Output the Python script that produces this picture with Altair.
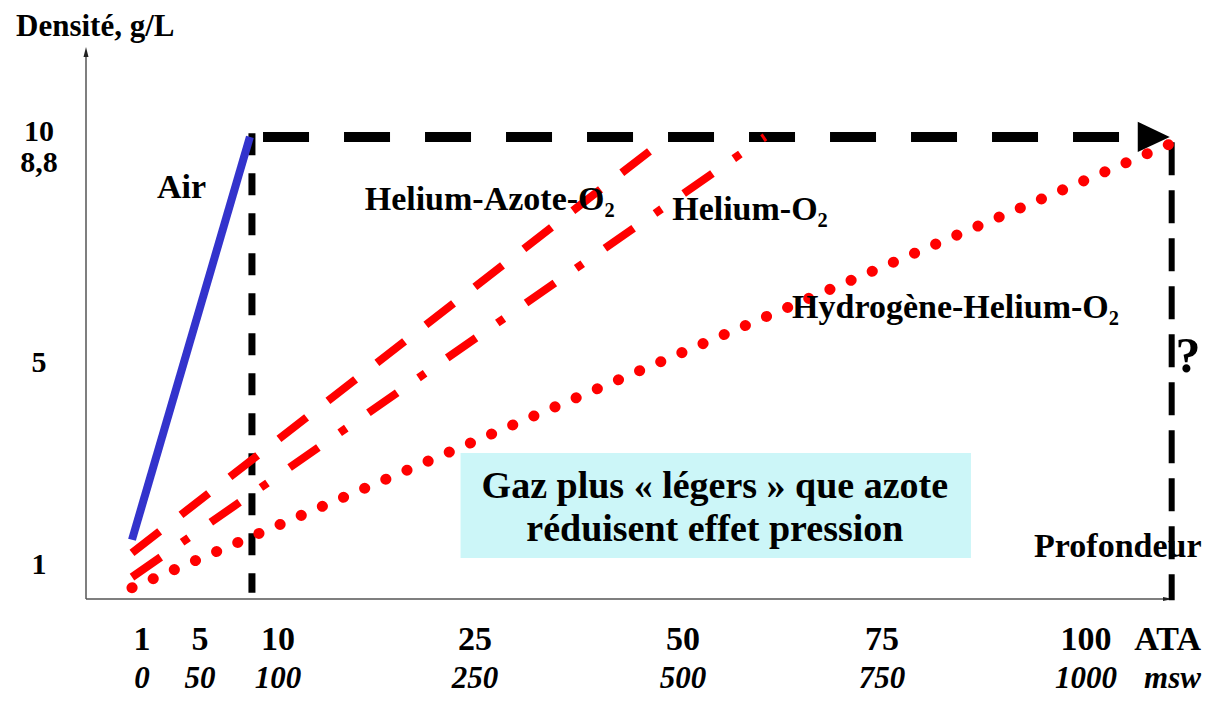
import altair as alt
import pandas as pd

# ---- axis ticks (schematic, non-linear axes of the slide) ----
ata_ticks = [1, 5, 10, 25, 50, 75, 100]
ata_labels = ["1", "5", "10", "25", "50", "75", "100"]
msw_labels = ["0", "50", "100", "250", "500", "750", "1000"]
dens_ticks = [1, 5, 8.8, 10]
dens_labels = ["1", "5", "8,8", "10"]

# ---- gas density lines (ATA, g/L) ----
gas = ["Air", "Helium-Azote-O2", "Helium-O2", "Hydrogène-Helium-O2"]
ata_start = [0.31, 0.31, 0.31, 0.31]
dens_start = [1.5, 1.24, 0.76, 0.55]
ata_end = [8.2, 48.2, 60.3, 111.5]
dens_end = [9.81, 9.81, 9.81, 9.7]

# ---- limits (black dashed) ----
limit_h_ata = [9.04, 106.4]
limit_h_dens = 9.81
limit_left_ata = 8.33
limit_left_dens = [9.95, 0.45]
limit_right_ata = 110.5
limit_right_dens = [9.6, 0.3]
arrow_ata = 108.3

# ---- annotations ----
gas_label_text = ["Air", "Helium-Azote-O₂", "Helium-O₂", "Hydrogène-Helium-O₂"]
gas_label_ata = [2.03, 16.6, 48.7, 63.7]
gas_label_dens = [8.32, 8.1, 7.91, 6.04]
box_ata = [23.9, 85.9]
box_dens = [3.22, 1.14]
box_lines = ["Gaz plus « légers » que azote", "réduisent effet pression"]
box_line_ata = 54.0
box_line_dens = [2.54, 1.69]

FONT = "Liberation Serif"
RED = "#ff0000"
BLUE = "#3333cc"

x_scale = alt.Scale(domain=ata_ticks, range=[134, 192, 270, 467, 675, 874, 1078],
                    zero=False, nice=False)
y_scale = alt.Scale(domain=dens_ticks, range=[557, 355, 155, 124], zero=False, nice=False)


def X(f):
    return alt.X(f, type="quantitative", scale=x_scale, axis=None)


def Y(f):
    return alt.Y(f, type="quantitative", scale=y_scale, axis=None)


one = pd.DataFrame({"d": [0]})

# box
box = alt.Chart(pd.DataFrame({"x": [box_ata[0]], "x2": [box_ata[1]],
                              "y": [box_dens[0]], "y2": [box_dens[1]]})).mark_rect(
    color="#ccf6f8").encode(x=X("x"), x2="x2", y=Y("y"), y2="y2")

box_text = alt.Chart(pd.DataFrame({"t": box_lines, "x": [box_line_ata] * 2,
                                   "y": box_line_dens})).mark_text(
    font=FONT, fontSize=38, fontWeight="bold", align="center", baseline="middle",
    color="black").encode(x=X("x"), y=Y("y"), text="t:N")

# axes frame
y_axis = alt.Chart(one).mark_rule(color="#555555", strokeWidth=1.5).encode(
    x=alt.value(78), y=alt.value(591), y2=alt.value(44))
x_axis = alt.Chart(one).mark_rule(color="#555555", strokeWidth=1.5).encode(
    x=alt.value(78), x2=alt.value(1160), y=alt.value(591))
y_arrow = alt.Chart(one).mark_point(shape="M-0.5,1L0,-1L0.5,1Z", filled=True, opacity=1,
                                    size=100, color="#222222").encode(
    x=alt.value(78), y=alt.value(44))
x_arrow = alt.Chart(one).mark_point(shape="M-1,-0.4L1,0L-1,0.4Z", filled=True, opacity=1,
                                    size=100, color="#222222").encode(
    x=alt.value(1160), y=alt.value(591))

# black dashed limits
h_limit = alt.Chart(pd.DataFrame({"x": [limit_h_ata[0]], "x2": [limit_h_ata[1]],
                                  "y": [limit_h_dens]})).mark_rule(
    color="black", strokeWidth=10, strokeDash=[46, 35], strokeCap="butt").encode(
    x=X("x"), x2="x2", y=Y("y"))
v_left = alt.Chart(pd.DataFrame({"x": [limit_left_ata], "y": [limit_left_dens[0]],
                                 "y2": [limit_left_dens[1]]})).mark_rule(
    color="black", strokeWidth=7, strokeDash=[22, 18], strokeCap="butt").encode(
    x=X("x"), y=Y("y"), y2="y2")
v_right = alt.Chart(pd.DataFrame({"x": [limit_right_ata], "y": [limit_right_dens[0]],
                                  "y2": [limit_right_dens[1]]})).mark_rule(
    color="black", strokeWidth=6, strokeDash=[33, 15], strokeCap="butt").encode(
    x=X("x"), y=Y("y"), y2="y2")
big_arrow = alt.Chart(pd.DataFrame({"x": [arrow_ata], "y": [limit_h_dens]})).mark_point(
    shape="M-1,-0.94L1,0L-1,0.94Z", filled=True, opacity=1, size=1024,
    color="black").encode(x=X("x"), y=Y("y"))

lines_df = pd.DataFrame({"gas": gas, "x": ata_start, "y": dens_start,
                         "x2": ata_end, "y2": dens_end})


def gas_line(name, **kw):
    return alt.Chart(lines_df).transform_filter(
        alt.datum.gas == name).mark_rule(**kw).encode(
        x=X("x"), y=Y("y"), x2="x2", y2="y2")


air = gas_line("Air", color=BLUE, strokeWidth=8, strokeCap="butt")
he_n = gas_line("Helium-Azote-O2", color=RED, strokeWidth=8, strokeDash=[35, 27],
                strokeCap="butt")
he_o = gas_line("Helium-O2", color=RED, strokeWidth=8, strokeDash=[35, 26, 8, 27],
                strokeCap="butt")
h_he = gas_line("Hydrogène-Helium-O2", color=RED, strokeWidth=11,
                strokeDash=[0.1, 22.9], strokeCap="round")

gas_labels = alt.Chart(pd.DataFrame({"t": gas_label_text, "x": gas_label_ata,
                                     "y": gas_label_dens})).mark_text(
    font=FONT, fontSize=34, fontWeight="bold", align="left", baseline="middle",
    color="black").encode(x=X("x"), y=Y("y"), text="t:N")

question = alt.Chart(pd.DataFrame({"t": ["?"], "x": [112.5], "y": [5.11]})).mark_text(
    font=FONT, fontSize=50, fontWeight="bold", align="center", baseline="middle",
    color="black").encode(x=X("x"), y=Y("y"), text="t:N")

profondeur = alt.Chart(pd.DataFrame({"t": ["Profondeur"], "x": [103.9], "y": [1.36]})).mark_text(
    font=FONT, fontSize=34, fontWeight="bold", align="center", baseline="middle",
    color="black").encode(x=X("x"), y=Y("y"), text="t:N")

# tick labels
x_ticks1 = alt.Chart(pd.DataFrame({"x": ata_ticks, "t": ata_labels})).mark_text(
    font=FONT, fontSize=34, fontWeight="bold", align="center", baseline="middle",
    color="black").encode(x=X("x"), y=alt.value(632), text="t:N")
x_ticks2 = alt.Chart(pd.DataFrame({"x": ata_ticks, "t": msw_labels})).mark_text(
    font=FONT, fontSize=31, fontWeight="bold", fontStyle="italic", align="center",
    baseline="middle", color="black").encode(x=X("x"), y=alt.value(671), text="t:N")
unit1 = alt.Chart(pd.DataFrame({"x": [110.0], "t": ["ATA"]})).mark_text(
    font=FONT, fontSize=34, fontWeight="bold", align="center", baseline="middle",
    color="black").encode(x=X("x"), y=alt.value(632), text="t:N")
unit2 = alt.Chart(pd.DataFrame({"x": [110.6], "t": ["msw"]})).mark_text(
    font=FONT, fontSize=31, fontWeight="bold", fontStyle="italic", align="center",
    baseline="middle", color="black").encode(x=X("x"), y=alt.value(671), text="t:N")
y_ticks = alt.Chart(pd.DataFrame({"y": dens_ticks, "t": dens_labels})).mark_text(
    font=FONT, fontSize=30, fontWeight="bold", align="center", baseline="middle",
    color="black").encode(x=alt.value(31), y=Y("y"), text="t:N")
y_title = alt.Chart(pd.DataFrame({"t": ["Densité, g/L"]})).mark_text(
    font=FONT, fontSize=31, fontWeight="bold", align="left", baseline="alphabetic",
    color="black").encode(x=alt.value(8), y=alt.value(28), text="t:N")

chart = alt.layer(
    box, y_axis, x_axis, y_arrow, x_arrow, v_left, v_right, h_limit, big_arrow,
    air, he_n, he_o, h_he, gas_labels, box_text, question, profondeur,
    x_ticks1, x_ticks2, unit1, unit2, y_ticks, y_title
).properties(
    width=1195, height=688, autosize="none", padding=0, background="white"
).configure_view(strokeWidth=0)

chart.save("out.html", embed_options={"renderer": "svg", "actions": False})
